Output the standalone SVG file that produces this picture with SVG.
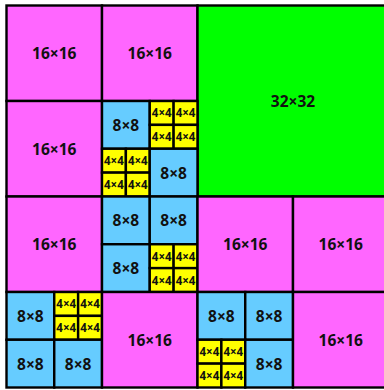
<svg xmlns="http://www.w3.org/2000/svg" width="384" height="390" viewBox="0 0 384 390">
<style>
rect{stroke:#000;stroke-width:2.4}
.m{fill:#ff66ff}.g{fill:#00ff00}.b{fill:#66ccff}.y{fill:#ffff00}
text{font-family:"Open Sans","Liberation Sans",sans-serif;font-weight:bold;fill:#111;text-anchor:middle;dominant-baseline:central}
.t16{font-size:15.5px}.t8{font-size:15.5px}.t4{font-size:11.5px}
</style>
<rect x="0" y="0" width="384" height="390" style="fill:#fff;stroke:none"/>
<g id="r0c0"><rect class="m" x="6.5" y="5.5" width="95.5" height="95.5"/><text class="t16" x="54.25" y="53.25">16×16</text></g>
<g id="r0c1"><rect class="m" x="102" y="5.5" width="95.5" height="95.5"/><text class="t16" x="149.75" y="53.25">16×16</text></g>
<g id="b32"><rect class="g" x="197.5" y="5.5" width="191" height="191"/><text class="t16" x="293" y="101">32×32</text></g>
<g id="r1c0"><rect class="m" x="6.5" y="101" width="95.5" height="95.5"/><text class="t16" x="54.25" y="148.75">16×16</text></g>
<g id="r1c1">
<rect class="b" x="102" y="101" width="47.75" height="47.75"/><text class="t8" x="125.9" y="124.9">8×8</text>
<rect class="y" x="149.75" y="101" width="23.875" height="23.875"/><text class="t4" x="161.7" y="112.9">4×4</text>
<rect class="y" x="173.625" y="101" width="23.875" height="23.875"/><text class="t4" x="185.6" y="112.9">4×4</text>
<rect class="y" x="149.75" y="124.875" width="23.875" height="23.875"/><text class="t4" x="161.7" y="136.8">4×4</text>
<rect class="y" x="173.625" y="124.875" width="23.875" height="23.875"/><text class="t4" x="185.6" y="136.8">4×4</text>
<rect class="y" x="102" y="148.75" width="23.875" height="23.875"/><text class="t4" x="113.9" y="160.7">4×4</text>
<rect class="y" x="125.875" y="148.75" width="23.875" height="23.875"/><text class="t4" x="137.8" y="160.7">4×4</text>
<rect class="y" x="102" y="172.625" width="23.875" height="23.875"/><text class="t4" x="113.9" y="184.6">4×4</text>
<rect class="y" x="125.875" y="172.625" width="23.875" height="23.875"/><text class="t4" x="137.8" y="184.6">4×4</text>
<rect class="b" x="149.75" y="148.75" width="47.75" height="47.75"/><text class="t8" x="173.6" y="172.6">8×8</text>
</g>
<g id="r2c0"><rect class="m" x="6.5" y="196.5" width="95.5" height="95.5"/><text class="t16" x="54.25" y="244.25">16×16</text></g>
<g id="r2c1">
<rect class="b" x="102" y="196.5" width="47.75" height="47.75"/><text class="t8" x="125.9" y="220.4">8×8</text>
<rect class="b" x="149.75" y="196.5" width="47.75" height="47.75"/><text class="t8" x="173.6" y="220.4">8×8</text>
<rect class="b" x="102" y="244.25" width="47.75" height="47.75"/><text class="t8" x="125.9" y="268.1">8×8</text>
<rect class="y" x="149.75" y="244.25" width="23.875" height="23.875"/><text class="t4" x="161.7" y="256.2">4×4</text>
<rect class="y" x="173.625" y="244.25" width="23.875" height="23.875"/><text class="t4" x="185.6" y="256.2">4×4</text>
<rect class="y" x="149.75" y="268.125" width="23.875" height="23.875"/><text class="t4" x="161.7" y="280.1">4×4</text>
<rect class="y" x="173.625" y="268.125" width="23.875" height="23.875"/><text class="t4" x="185.6" y="280.1">4×4</text>
</g>
<g id="r2c2"><rect class="m" x="197.5" y="196.5" width="95.5" height="95.5"/><text class="t16" x="245.25" y="244.25">16×16</text></g>
<g id="r2c3"><rect class="m" x="293" y="196.5" width="95.5" height="95.5"/><text class="t16" x="340.75" y="244.25">16×16</text></g>
<g id="r3c0">
<rect class="b" x="6.5" y="292" width="47.75" height="47.75"/><text class="t8" x="30.4" y="315.9">8×8</text>
<rect class="y" x="54.25" y="292" width="23.875" height="23.875"/><text class="t4" x="66.2" y="303.9">4×4</text>
<rect class="y" x="78.125" y="292" width="23.875" height="23.875"/><text class="t4" x="90.1" y="303.9">4×4</text>
<rect class="y" x="54.25" y="315.875" width="23.875" height="23.875"/><text class="t4" x="66.2" y="327.8">4×4</text>
<rect class="y" x="78.125" y="315.875" width="23.875" height="23.875"/><text class="t4" x="90.1" y="327.8">4×4</text>
<rect class="b" x="6.5" y="339.75" width="47.75" height="47.75"/><text class="t8" x="30.4" y="363.6">8×8</text>
<rect class="b" x="54.25" y="339.75" width="47.75" height="47.75"/><text class="t8" x="78.1" y="363.6">8×8</text>
</g>
<g id="r3c1"><rect class="m" x="102" y="292" width="95.5" height="95.5"/><text class="t16" x="149.75" y="339.75">16×16</text></g>
<g id="r3c2">
<rect class="b" x="197.5" y="292" width="47.75" height="47.75"/><text class="t8" x="221.4" y="315.9">8×8</text>
<rect class="b" x="245.25" y="292" width="47.75" height="47.75"/><text class="t8" x="269.1" y="315.9">8×8</text>
<rect class="y" x="197.5" y="339.75" width="23.875" height="23.875"/><text class="t4" x="209.4" y="351.7">4×4</text>
<rect class="y" x="221.375" y="339.75" width="23.875" height="23.875"/><text class="t4" x="233.3" y="351.7">4×4</text>
<rect class="y" x="197.5" y="363.625" width="23.875" height="23.875"/><text class="t4" x="209.4" y="375.6">4×4</text>
<rect class="y" x="221.375" y="363.625" width="23.875" height="23.875"/><text class="t4" x="233.3" y="375.6">4×4</text>
<rect class="b" x="245.25" y="339.75" width="47.75" height="47.75"/><text class="t8" x="269.1" y="363.6">8×8</text>
</g>
<g id="r3c3"><rect class="m" x="293" y="292" width="95.5" height="95.5"/><text class="t16" x="340.75" y="339.75">16×16</text></g>
</svg>
